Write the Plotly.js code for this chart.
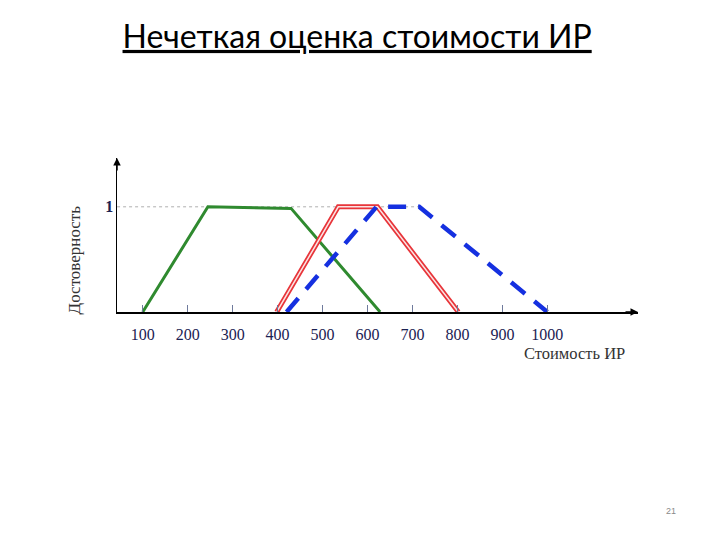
<!DOCTYPE html>
<html>
<head>
<meta charset="utf-8">
<script src="https://cdn.plot.ly/plotly-3.0.1.min.js"></script>
<style>
html, body { margin: 0; padding: 0; background: #ffffff; }
#chart { width: 720px; height: 540px; }
</style>
</head>
<body>
<div id="chart"></div>
<script>
// ---- data ----
var tickValues = [100, 200, 300, 400, 500, 600, 700, 800, 900, 1000];
var tickLabels = ['100', '200', '300', '400', '500', '600', '700', '800', '900', '1000'];

var greenX = [100, 245, 430, 628];
var greenY = [0, 1, 0.985, 0];

var redX = [398, 535, 622, 802];
var redY = [0, 1, 1, 0];

var blueX = [420, 620, 715, 1000];
var blueY = [0, 1, 1, 0];

var refLevelX = [43, 720];
var refLevelY = [1, 1];

var yTickValues = [1];
var yTickLabels = ['1'];

var titleText = 'Нечеткая оценка стоимости ИР';
var xTitleText = 'Стоимость ИР';
var yTitleText = 'Достоверность';
var pageNumber = '21';

// ---- chart ----
var xRange = [42.8, 1201.6];
var yRange = [0, 1.464];

var traces = [
  { x: refLevelX, y: refLevelY, mode: 'lines', hoverinfo: 'skip',
    line: { color: '#b0b0b0', width: 1, dash: 'dot' }, showlegend: false },
  { x: greenX, y: greenY, mode: 'lines', name: 'green',
    line: { color: '#2f8a2f', width: 3 }, showlegend: false },
  { x: redX, y: redY, mode: 'lines', name: 'red',
    line: { color: '#e8353a', width: 5 }, showlegend: false },
  { x: redX, y: redY, mode: 'lines', name: 'red-inner', hoverinfo: 'skip',
    line: { color: '#fbe3e3', width: 1.5 }, showlegend: false },
  { x: blueX, y: blueY, mode: 'lines', name: 'blue',
    line: { color: '#1530e0', width: 4.5, dash: '18px,12px' }, showlegend: false }
];

var serif = 'Liberation Serif, Times New Roman, serif';

var layout = {
  width: 720, height: 540,
  paper_bgcolor: '#ffffff', plot_bgcolor: 'rgba(0,0,0,0)',
  margin: { l: 117, r: 82, t: 158, b: 228.3, pad: 0 },
  showlegend: false,
  title: {
    text: '<u>' + titleText + '</u>',
    font: { family: 'Lato, Open Sans, sans-serif', size: 32, color: '#000000' },
    xref: 'container', yref: 'container',
    x: 0.496, xanchor: 'center',
    y: 0.932, yanchor: 'middle'
  },
  xaxis: {
    range: xRange, showgrid: false, zeroline: false,
    showline: true, linecolor: '#000000', linewidth: 1.5,
    tickmode: 'array', tickvals: tickValues, ticktext: tickLabels,
    ticks: 'inside', ticklen: 7, tickwidth: 1.2, tickcolor: '#6f7a9c',
    ticklabelstandoff: 7,
    tickfont: { family: serif, size: 16, color: '#1b2152' },
    fixedrange: true
  },
  yaxis: {
    range: yRange, showgrid: false, zeroline: false,
    showline: true, linecolor: '#000000', linewidth: 1.5,
    tickmode: 'array', tickvals: yTickValues, ticktext: yTickLabels,
    ticks: '', ticklabelstandoff: -1,
    tickfont: { family: serif, size: 16, color: '#1b2152', weight: 'bold' },
    fixedrange: true
  },
  annotations: [
    { xref: 'x', yref: 'y', x: xRange[1], y: 0, ax: -14, ay: 0, axref: 'pixel', ayref: 'pixel',
      text: '', showarrow: true, arrowhead: 2, arrowsize: 1, arrowwidth: 1.5, arrowcolor: '#000000' },
    { xref: 'x', yref: 'y', x: xRange[0], y: yRange[1], ax: 0, ay: 14, axref: 'pixel', ayref: 'pixel',
      text: '', showarrow: true, arrowhead: 2, arrowsize: 1, arrowwidth: 1.5, arrowcolor: '#000000' },
    { xref: 'paper', yref: 'paper', x: -0.081, y: 0.34, xanchor: 'center', yanchor: 'middle',
      text: yTitleText, textangle: -90, showarrow: false,
      font: { family: serif, size: 17, color: '#333333' } },
    { xref: 'paper', yref: 'paper', x: 0.979, y: -0.27, xanchor: 'right', yanchor: 'middle',
      text: xTitleText, showarrow: false,
      font: { family: serif, size: 16.5, color: '#333333' } },
    { xref: 'paper', yref: 'paper', x: 1.064, y: -1.29, xanchor: 'center', yanchor: 'middle',
      text: pageNumber, showarrow: false,
      font: { family: 'Liberation Sans, sans-serif', size: 9, color: '#8a8a8a' } }
  ]
};

Plotly.newPlot('chart', traces, layout, { displayModeBar: false, staticPlot: true });
</script>
</body>
</html>
